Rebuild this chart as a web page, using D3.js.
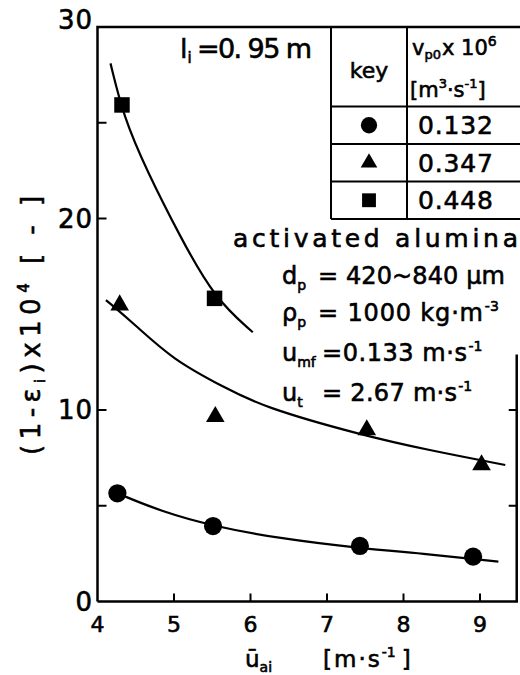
<!DOCTYPE html>
<html>
<head>
<meta charset="utf-8">
<script src="https://cdn.jsdelivr.net/npm/d3@7"></script>
<style>
  html, body { margin: 0; padding: 0; background: #fff; }
  text { font-family: "DejaVu Sans", sans-serif; fill: #000; stroke: #000; stroke-width: 0.6px; }
</style>
</head>
<body>
<svg id="chart" width="520" height="675"></svg>
<script>
// measured points, [u_ai, (1-e)x10^4]
const circlePts = [[4.26, 5.65], [5.51, 3.94], [7.43, 2.90], [8.91, 2.34]];
const trianglePts = [[4.29, 15.48], [5.54, 9.65], [7.52, 8.96], [9.02, 7.13]];
const squarePts = [[4.32, 25.93], [5.53, 15.83]];

// fitted curves
const circleFit = [[4.26, 5.65], [4.84, 4.69], [5.51, 3.94], [6.36, 3.30], [7.43, 2.78], [8.32, 2.48], [9.24, 2.08]];
const triangleFit = [[4.11, 15.74], [4.47, 14.53], [4.99, 12.61], [5.64, 11.22], [6.15, 10.17], [7.45, 8.69], [8.32, 7.91], [9.33, 7.13]];
const squareFit = [[4.17, 28.10], [4.34, 25.32], [4.64, 22.53], [5.08, 19.05], [5.53, 15.83], [6.03, 14.06]];

const xTickLabels = [4, 5, 6, 7, 8, 9];
const xTicks = [5, 6, 7, 8, 9];
const yTickLabels = [0, 10, 20, 30];
const yTicks = [5, 10, 20, 25];
const rightTicks = [5, 10];

const keyValues = ['0.132', '0.347', '0.448'];
const keySymbols = ['circle', 'triangle', 'square'];

const svg = d3.select('#chart');

const x = d3.scaleLinear().domain([4, 9]).range([97.5, 480]);
const y = d3.scaleLinear().domain([0, 30]).range([601.5, 27]);
const xMax = 9.48;

const symbolType = {
  circle: d3.symbolCircle,
  triangle: d3.symbolTriangle,
  square: d3.symbolSquare
};
const symbolSize = { circle: 260, triangle: 150, square: 240 };

// Frame
const frame = svg.append('g')
  .attr('fill', 'none')
  .attr('stroke', '#000')
  .attr('stroke-width', 2.5);

frame.append('path')
  .attr('d', `M ${x(4)},${y(0)} V ${y(30)} H 520`);
frame.append('path')
  .attr('d', `M ${x(4)},${y(0)} H ${x(xMax)} V ${y(12.9)}`);

// Ticks (inward)
svg.append('g')
  .attr('stroke', '#000')
  .attr('stroke-width', 2)
  .selectAll('line.xt')
  .data(xTicks)
  .join('line')
  .attr('x1', d => x(d)).attr('x2', d => x(d))
  .attr('y1', y(0)).attr('y2', y(0) - 8);

svg.append('g')
  .attr('stroke', '#000')
  .attr('stroke-width', 2)
  .selectAll('line')
  .data(yTicks)
  .join('line')
  .attr('x1', x(4)).attr('x2', x(4) + 9)
  .attr('y1', d => y(d)).attr('y2', d => y(d));

svg.append('g')
  .attr('stroke', '#000')
  .attr('stroke-width', 2)
  .selectAll('line')
  .data(rightTicks)
  .join('line')
  .attr('x1', x(xMax)).attr('x2', x(xMax) - 8)
  .attr('y1', d => y(d)).attr('y2', d => y(d));

// Tick labels
svg.append('g')
  .selectAll('text')
  .data(xTickLabels)
  .join('text')
  .attr('x', d => x(d))
  .attr('y', 632)
  .attr('text-anchor', 'middle')
  .attr('font-size', 22)
  .text(d => d);

svg.append('g')
  .selectAll('text')
  .data(yTickLabels)
  .join('text')
  .attr('x', 93)
  .attr('y', d => d === 30 ? y(d) - 7 : y(d))
  .attr('dy', '0.36em')
  .attr('text-anchor', 'end')
  .attr('font-size', 26)
  .attr('letter-spacing', 1)
  .text(d => d);

// Curves
const line = d3.line()
  .x(d => x(d[0]))
  .y(d => y(d[1]))
  .curve(d3.curveBasis);

svg.append('g')
  .attr('fill', 'none')
  .attr('stroke', '#000')
  .attr('stroke-width', 2.2)
  .selectAll('path')
  .data([circleFit, triangleFit, squareFit])
  .join('path')
  .attr('d', line);

// Markers
const series = [
  { type: 'circle', pts: circlePts },
  { type: 'triangle', pts: trianglePts },
  { type: 'square', pts: squarePts }
];

series.forEach(s => {
  svg.append('g')
    .selectAll('path')
    .data(s.pts)
    .join('path')
    .attr('transform', d => `translate(${x(d[0])},${y(d[1])})`)
    .attr('d', d3.symbol().type(symbolType[s.type]).size(symbolSize[s.type]))
    .attr('fill', '#000');
});

// Key table
const tblLeft = 331, tblMid = 407;
const rowLines = [106.5, 144, 181.5, 219];
const tbl = svg.append('g')
  .attr('stroke', '#000')
  .attr('stroke-width', 2)
  .attr('fill', 'none');

tbl.append('path').attr('d', `M ${tblLeft},${y(30)} V ${rowLines[3]}`);
tbl.append('path').attr('d', `M ${tblMid},${y(30)} V ${rowLines[3]}`);
tbl.selectAll('line')
  .data(rowLines)
  .join('line')
  .attr('x1', tblLeft).attr('x2', 520)
  .attr('y1', d => d).attr('y2', d => d);

svg.append('text')
  .attr('x', (tblLeft + tblMid) / 2)
  .attr('y', 78)
  .attr('text-anchor', 'middle')
  .attr('font-size', 22)
  .text('key');

const head1 = svg.append('text').attr('x', 412).attr('y', 55).attr('font-size', 21);
head1.append('tspan').text('v');
head1.append('tspan').attr('font-size', 13).attr('dy', 4).text('p0');
head1.append('tspan').attr('dy', -4).attr('dx', 1).text('x 10');
head1.append('tspan').attr('font-size', 14).attr('dy', -9).text('6');

const head2 = svg.append('text').attr('x', 410).attr('y', 97).attr('font-size', 21);
head2.append('tspan').text('[m');
head2.append('tspan').attr('font-size', 13).attr('dy', -9).text('3');
head2.append('tspan').attr('dy', 9).text('·s');
head2.append('tspan').attr('font-size', 13).attr('dy', -9).text('-1');
head2.append('tspan').attr('dy', 9).text(']');

keySymbols.forEach((k, i) => {
  const cy = (rowLines[i] + rowLines[i + 1]) / 2;
  svg.append('path')
    .attr('transform', `translate(${(tblLeft + tblMid) / 2},${cy})`)
    .attr('d', d3.symbol().type(symbolType[k]).size(symbolSize[k] * 0.8))
    .attr('fill', '#000');
  svg.append('text')
    .attr('x', 418)
    .attr('y', cy + 9)
    .attr('font-size', 25)
    .attr('textLength', 75)
    .attr('lengthAdjust', 'spacing')
    .text(keyValues[i]);
});

// l_i label
const li = svg.append('text').attr('x', 180).attr('y', 58).attr('font-size', 27);
li.append('tspan').text('l');
li.append('tspan').attr('font-size', 15).attr('dy', 5).text('i');
li.append('tspan').attr('x', 197).attr('dy', -5)
  .attr('textLength', 115).attr('lengthAdjust', 'spacing').text('=0. 95 m');

// Material notes
svg.append('text')
  .attr('x', 233).attr('y', 247)
  .attr('font-size', 25)
  .attr('textLength', 285).attr('lengthAdjust', 'spacing')
  .text('activated alumina');

const notes = [
  { sym: 'd', sub: 'p', y: 284, eqX: 318, body: '= 420~840 μm', len: 187, sup: '' },
  { sym: 'ρ', sub: 'p', y: 321, eqX: 318, body: '= 1000 kg·m', len: 165, sup: '-3' },
  { sym: 'u', sub: 'mf', y: 361, eqX: 322, body: '=0.133 m·s', len: 145, sup: '-1' },
  { sym: 'u', sub: 't', y: 401, eqX: 322, body: '= 2.67 m·s', len: 135, sup: '-1' }
];

notes.forEach(n => {
  const t = svg.append('text').attr('x', 282).attr('y', n.y).attr('font-size', 24);
  t.append('tspan').text(n.sym);
  t.append('tspan').attr('font-size', 14).attr('dy', 6).text(n.sub);
  t.append('tspan').attr('x', n.eqX).attr('dy', -6)
    .attr('textLength', n.len).attr('lengthAdjust', 'spacing').text(n.body);
  if (n.sup) {
    t.append('tspan').attr('font-size', 14).attr('dy', -10).attr('dx', 1).text(n.sup);
  }
});

// Axis titles
const xt = svg.append('text').attr('x', 245).attr('y', 667).attr('font-size', 23);
xt.append('tspan').text('ū');
xt.append('tspan').attr('font-size', 14).attr('dy', 5).text('ai');
xt.append('tspan').attr('x', 323).attr('dy', -5).attr('letter-spacing', 2).text('[m·s');
xt.append('tspan').attr('font-size', 14).attr('dy', -10).text('-1');
xt.append('tspan').attr('dy', 10).attr('dx', 6).text(']');

const yt = svg.append('text')
  .attr('transform', 'translate(40,455) rotate(-90)')
  .attr('font-size', 26)
  .attr('letter-spacing', 5.5);
yt.append('tspan').text('(1-ε');
yt.append('tspan').attr('font-size', 14).attr('dy', 5).text('i');
yt.append('tspan').attr('dy', -5).text(')x10');
yt.append('tspan').attr('font-size', 15).attr('dy', -11).text('4');
yt.append('tspan').attr('dy', 11).text(' [ - ]');
</script>
</body>
</html>
